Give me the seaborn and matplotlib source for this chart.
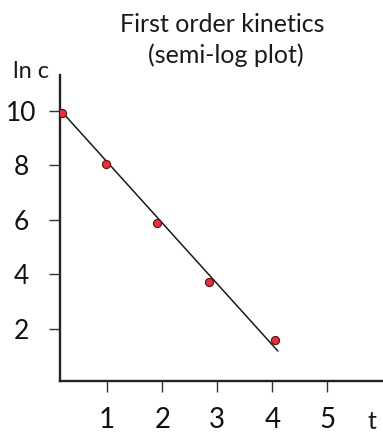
import matplotlib
matplotlib.use("Agg")
import matplotlib.pyplot as plt
import seaborn as sns
import pandas as pd

# Measured concentrations (natural log) over time
t = [0.18, 0.98, 1.9, 2.85, 4.05]
ln_c = [9.92, 8.06, 5.89, 3.73, 1.6]

# Straight-line fit drawn through the points
fit_t = [0.18, 4.1]
fit_ln_c = [9.96, 1.19]

x_ticks = [1, 2, 3, 4, 5]
x_tick_labels = ["1", "2", "3", "4", "5"]
y_ticks = [2, 4, 6, 8, 10]
y_tick_labels = ["2", "4", "6", "8", "10"]

sns.set_style("white")
plt.rcParams["font.family"] = ["Lato", "DejaVu Sans"]

W, H = 383, 434
fig = plt.figure(figsize=(W / 100, H / 100), dpi=100)
ax = fig.add_axes([60 / W, (H - 381) / H, (W - 60) / W, (381 - 75) / H])

points = pd.DataFrame({"t": t, "ln_c": ln_c})
fit = pd.DataFrame({"t": fit_t, "ln_c": fit_ln_c})

sns.lineplot(data=fit, x="t", y="ln_c", ax=ax, color="#1a1a1a", linewidth=1.1)
sns.scatterplot(data=points, x="t", y="ln_c", ax=ax, color="#e8303a",
                edgecolor="#5a1010", linewidth=0.8, s=34, zorder=3)

ax.set_xlim(0.142, 6.01)
ax.set_ylim(0.09, 11.32)

sns.despine(ax=ax)
for side in ("left", "bottom"):
    ax.spines[side].set_linewidth(1.7)
    ax.spines[side].set_color("#222222")

ax.set_xticks(x_ticks)
ax.set_xticklabels(x_tick_labels, fontsize=20, color="#111111")
ax.set_yticks(y_ticks)
ax.set_yticklabels(y_tick_labels, fontsize=19, color="#111111", ha="center")
ax.tick_params(axis="x", direction="out", length=8, width=1, color="#333333",
               pad=11, bottom=True)
ax.tick_params(axis="y", direction="out", length=8, width=1, color="#333333",
               pad=20, left=True)
ax.set_xlabel("")
ax.set_ylabel("")

fig.text(222 / W, 1 - 32 / H, "First order kinetics", ha="center",
         va="baseline", fontsize=18, color="#1a1a1a")
fig.text(226 / W, 1 - 63 / H, "(semi-log plot)", ha="center",
         va="baseline", fontsize=18, color="#1a1a1a")
fig.text(13 / W, 1 - 78 / H, "ln c", ha="left", va="baseline",
         fontsize=17, color="#1a1a1a")
fig.text(372 / W, 1 - 429 / H, "t", ha="center", va="baseline",
         fontsize=18, color="#1a1a1a")

fig.savefig("out.png", dpi=100)
